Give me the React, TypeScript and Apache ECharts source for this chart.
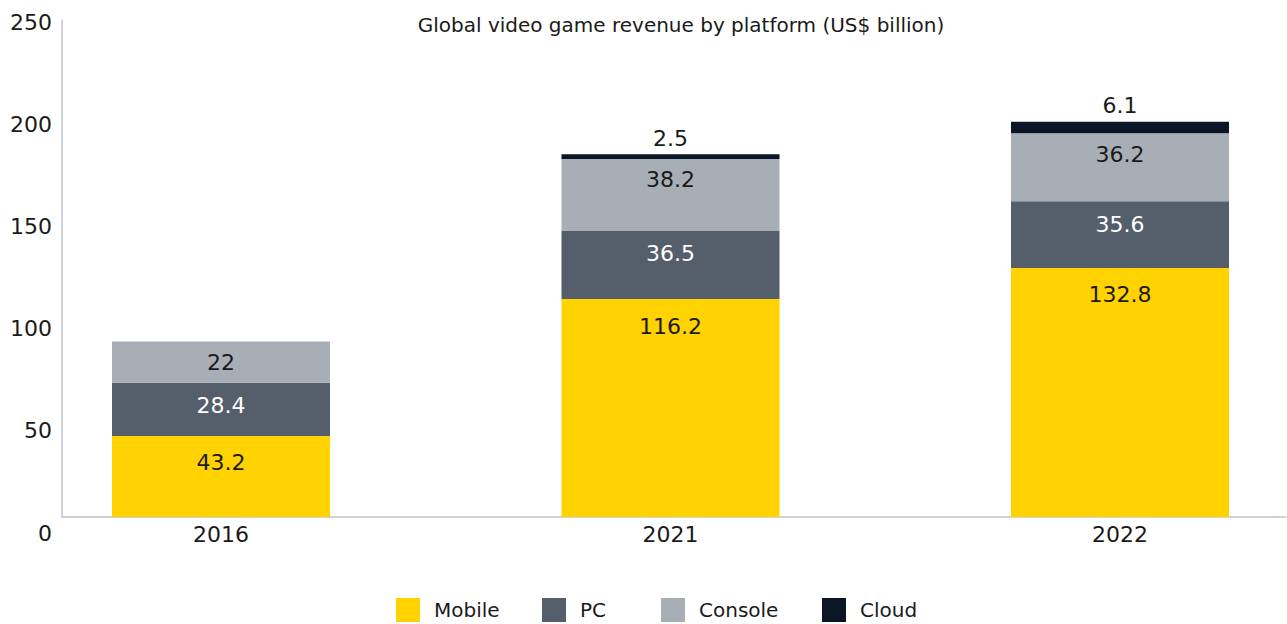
import React, { useEffect, useRef } from "react";
import * as echarts from "echarts";

const years = ["2016", "2021", "2022"];
const mobile = [43.2, 116.2, 132.8];
const pc = [28.4, 36.5, 35.6];
const consoleRev = [22, 38.2, 36.2];
const cloud: (number | null)[] = [null, 2.5, 6.1];
const seriesNames = ["Mobile", "PC", "Console", "Cloud"];
const colors = ["#FFD200", "#555E6B", "#A7AEB5", "#0B1526"];
const titleText = "Global video game revenue by platform (US$ billion)";

const FONT = "DejaVu Sans";
const DARK = "#1a1a1a";

export default function App() {
  const ref = useRef<HTMLDivElement>(null);
  useEffect(() => {
    if (!ref.current) return;
    const chart = echarts.init(ref.current, null, { renderer: "svg" });
    const dataSets = [mobile, pc, consoleRev, cloud];
    const labelColors = [DARK, "#ffffff", DARK, DARK];
    const labelDist = [16, 12, 10, 5];
    const series = dataSets.map((d, i) => ({
      name: seriesNames[i],
      type: "bar",
      stack: "total",
      xAxisIndex: 0,
      yAxisIndex: 0,
      barWidth: 218,
      clip: false,
      itemStyle: { color: colors[i] },
      label: {
        show: true,
        position: i === 3 ? "top" : "insideTop",
        distance: labelDist[i],
        color: labelColors[i],
        fontSize: 22,
        fontFamily: FONT,
      },
      data: d,
    }));
    const legendLefts = [396, 542, 661, 822];
    const legends = seriesNames.map((n, i) => ({
      data: [n],
      left: legendLefts[i],
      top: 598,
      icon: "rect",
      itemWidth: 24,
      itemHeight: 24,
      itemGap: 0,
      padding: 0,
      textStyle: {
        fontSize: 20,
        lineHeight: 22,
        color: DARK,
        fontFamily: FONT,
        padding: [0, 0, 0, 9],
      },
    }));
    chart.setOption({
      animation: false,
      color: colors,
      title: {
        text: titleText,
        left: 676,
        textAlign: "center",
        top: 10,
        textStyle: { fontSize: 20, fontWeight: "normal", color: DARK, fontFamily: FONT },
      },
      legend: legends,
      grid: [
        { left: 221, right: 167, top: 20, bottom: 107 },
        { left: 62, right: 1, top: 20, bottom: 107 },
        { left: 62, right: 1, top: 22.5, bottom: 91 },
      ],
      xAxis: [
        {
          gridIndex: 0,
          type: "category",
          data: years,
          boundaryGap: false,
          axisLine: { show: false },
          axisTick: { show: false },
          axisLabel: { fontSize: 22, color: DARK, fontFamily: FONT, margin: 6 },
        },
        {
          gridIndex: 1,
          type: "value",
          min: 0,
          max: 1,
          axisLine: { show: true, lineStyle: { color: "#BFC4CA", width: 1.5 } },
          axisTick: { show: false },
          axisLabel: { show: false },
          splitLine: { show: false },
        },
        {
          gridIndex: 2,
          type: "value",
          min: 0,
          max: 1,
          show: false,
        },
      ],
      yAxis: [
        {
          gridIndex: 0,
          type: "value",
          min: 0,
          max: 265,
          show: false,
          splitLine: { show: false },
        },
        {
          gridIndex: 1,
          type: "value",
          min: 0,
          max: 1,
          axisLine: { show: true, lineStyle: { color: "#BFC4CA", width: 1.5 } },
          axisTick: { show: false },
          axisLabel: { show: false },
          splitLine: { show: false },
        },
        {
          gridIndex: 2,
          type: "value",
          min: 0,
          max: 250,
          interval: 50,
          axisLine: { show: false },
          axisTick: { show: false },
          splitLine: { show: false },
          axisLabel: { fontSize: 22, color: DARK, fontFamily: FONT, margin: 10 },
        },
      ],
      series,
    });
    return () => chart.dispose();
  }, []);
  return (
    <div
      ref={ref}
      style={{ position: "fixed", left: 0, top: 0, width: 1287, height: 624, background: "#fff" }}
    />
  );
}
